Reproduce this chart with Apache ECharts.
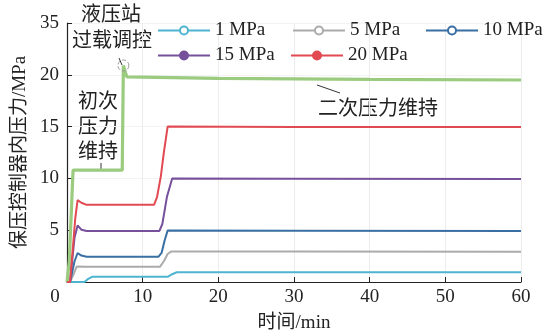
<!DOCTYPE html>
<html><head><meta charset="utf-8">
<script src="https://cdn.jsdelivr.net/npm/echarts@6/dist/echarts.min.js"></script>
<style>html,body{margin:0;padding:0;background:#fff}#c{width:553px;height:331px}</style>
</head><body><div id="c"></div>
<script>
const xTicks = [0, 10, 20, 30, 40, 50, 60];
const yTickLabels = {0: '', 5: '5', 10: '10', 15: '15', 20: '20', 25: '35'};
const legendNames = ['1 MPa', '5 MPa', '10 MPa', '15 MPa', '20 MPa'];
const s1 = [[0,0],[2.3,0],[2.8,0.3],[3.3,0.5],[8,0.5],[13.3,0.5],[13.9,0.75],[14.5,0.94],[30,0.94],[60,0.94]];
const s5 = [[0,0],[0.4,0],[0.9,0.8],[1.3,1.5],[2.5,1.48],[12.3,1.48],[12.8,2.0],[13.3,2.7],[13.8,2.95],[30,2.95],[60,2.93]];
const s10 = [[0,0],[0.4,0],[1.0,2.0],[1.4,2.8],[1.9,2.55],[2.6,2.44],[12.1,2.44],[12.5,2.8],[12.9,4.0],[13.3,4.96],[30,4.94],[60,4.92]];
const s15 = [[0,0],[0.4,0],[1.0,4.3],[1.4,5.45],[1.9,5.05],[2.6,4.92],[12.2,4.92],[12.6,5.6],[13.2,8.2],[13.9,10.0],[30,9.97],[60,9.95]];
const s20 = [[0,0],[0.4,0],[1.1,6.2],[1.4,7.9],[1.9,7.65],[2.6,7.45],[11.5,7.45],[11.9,8.2],[12.4,10.2],[12.8,12.5],[13.3,15.0],[30,14.97],[60,14.95]];
const sInit = [[0,0],[0.3,2],[0.8,10.8],[4,10.8],[7.3,10.8],[7.45,20.9],[7.9,19.8],[20,19.65],[40,19.55],[60,19.5]];

const serif = '"Liberation Serif","Noto Sans CJK SC",serif';
const chart = echarts.init(document.getElementById('c'));
function line(name, data, color, sym, w) {
  return {name, type:'line', data, showSymbol:false, symbol:sym, symbolSize:8,
    lineStyle:{color, width:w}, itemStyle:{color, borderColor:color, borderWidth:2}, z:3, animation:false};
}
const legendPos = [[152,16],[287,16],[420,16],[152,41],[285,41]];
const legends = legendNames.map((n, i) => ({data:[n], left:legendPos[i][0], top:legendPos[i][1],
  itemWidth:52, itemHeight:10, textStyle:{fontFamily:serif, fontSize:19, color:'#222'}}));
chart.setOption({
  animation:false,
  grid:{left:67, right:32, top:23, bottom:49, containLabel:false, outerBoundsMode:'none'},
  legend:legends,
  xAxis:{type:'value', min:0, max:60, interval:10,
    axisLine:{lineStyle:{color:'#222', width:1.2}},
    axisTick:{inside:true, length:5, lineStyle:{color:'#222'}},
    splitLine:{show:true, lineStyle:{color:'#ececec', width:1}},
    axisLabel:{fontFamily:serif, fontSize:19, color:'#222', margin:6,
      formatter:v => v === 0 ? '{z|0}' : String(v),
      rich:{z:{fontFamily:serif, fontSize:19, color:'#222', padding:[0,24,0,0]}}},
    name:'时间/min', nameLocation:'middle', nameGap:32,
    nameTextStyle:{fontFamily:serif, fontSize:19, color:'#222'}},
  yAxis:{type:'value', min:0, max:25, interval:5,
    axisLine:{show:true, lineStyle:{color:'#222', width:1.2}},
    axisTick:{show:true, inside:true, length:5, lineStyle:{color:'#222'}},
    splitLine:{show:true, lineStyle:{color:'#f3f3f3', width:1}},
    axisLabel:{fontFamily:serif, fontSize:19, color:'#222', margin:8,
      formatter:v => yTickLabels[v] !== undefined ? yTickLabels[v] : ''},
    name:'保压控制器内压力/MPa', nameLocation:'middle', nameGap:30, nameRotate:90,
    nameTextStyle:{fontFamily:serif, fontSize:19, color:'#222'}},
  series:[
    line('1 MPa', s1, '#4fb4d0', 'emptyCircle', 2),
    line('5 MPa', s5, '#ababab', 'emptyCircle', 2),
    line('10 MPa', s10, '#3a6fa3', 'emptyCircle', 2),
    line('15 MPa', s15, '#76509b', 'circle', 2),
    line('20 MPa', s20, '#e24a52', 'circle', 2),
    {name:'初次', type:'line', data:sInit, showSymbol:false, lineStyle:{color:'#9acb7e', width:3.2},
      itemStyle:{color:'#9acb7e'}, z:2,
      markPoint:{symbol:'circle', symbolSize:11, silent:true,
        itemStyle:{color:'rgba(0,0,0,0)', borderColor:'#999', borderWidth:1, borderType:'dashed'},
        label:{show:false}, data:[{coord:[7.45,20.9]}]}}
  ],
  graphic:[
    {type:'text', left:81, top:6, style:{text:'液压站', font:'20px '+serif, fill:'#222'}},
    {type:'text', left:72, top:32, style:{text:'过载调控', font:'20px '+serif, fill:'#222'}},
    {type:'line', shape:{x1:119, y1:58, x2:122, y2:65}, style:{stroke:'#333', lineWidth:1}},
    {type:'text', left:78, top:90, style:{text:'初次\n压力\n维持', font:'20px '+serif, fill:'#222', lineHeight:25}},
    {type:'line', shape:{x1:101, y1:163, x2:101, y2:170}, style:{stroke:'#333', lineWidth:1}},
    {type:'text', left:318, top:100, style:{text:'二次压力维持', font:'20px '+serif, fill:'#222'}},
    {type:'line', shape:{x1:317, y1:85, x2:340, y2:93}, style:{stroke:'#333', lineWidth:1}}
  ]
});
</script></body></html>
